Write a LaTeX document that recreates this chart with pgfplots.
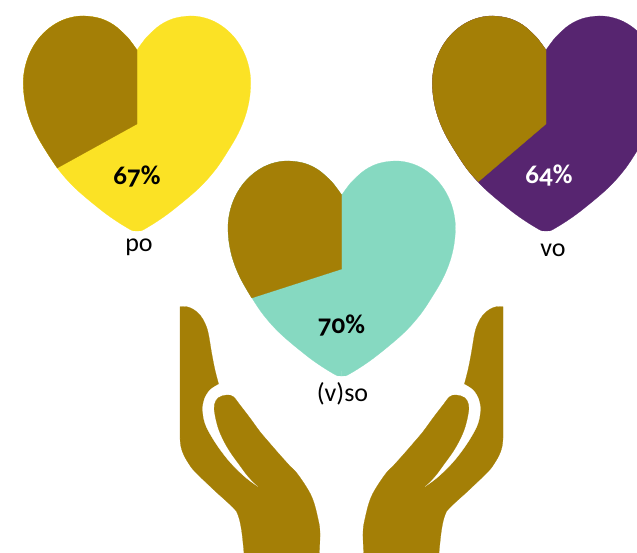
\documentclass[border=0pt]{standalone}
\usepackage{pgfplots}
\usepackage{pgfplotstable}
\usepackage{fontspec}
\setmainfont[Numbers=OldStyle]{Carlito}
\pgfplotsset{compat=1.18}
\definecolor{dk}{HTML}{A47F06}
\definecolor{yel}{HTML}{FBE225}
\definecolor{teal2}{HTML}{86D9C1}
\definecolor{pur}{HTML}{572570}
% heart half outline (offset from the centre line, y in px)
\pgfplotstableread{
dx y
0 50
5.4 42.5
11 35.8
23.1 25.1
37 18.4
53 16
65.7 17.4
77.3 21.5
87.6 28
96.5 36.4
103.7 46.4
109.1 57.75
112.5 70.1
113.7 83
112.4 99.1
108.4 115.9
101.2 133.4
90.6 151.6
78 170.3
61 189
36 210
20 221.5
6 230
3 230.8
0 231
}\halfheart
\pgfplotstableread{
dx y
0 50
5.4 42.5
11 35.8
23.1 25.1
37 18.4
53 16
65.7 17.4
77.3 21.5
87.6 28
96.5 36.4
103.7 46.4
109.1 57.75
112.5 70.1
113.7 83
112.4 99.1
108.4 115.9
101.2 133.4
90.6 151.6
79.7 168
}\arcpo
\pgfplotstableread{
dx y
0 50
5.4 42.5
11 35.8
23.1 25.1
37 18.4
53 16
65.7 17.4
77.3 21.5
87.6 28
96.5 36.4
103.7 46.4
109.1 57.75
112.5 70.1
113.7 83
112.4 99.1
108.4 115.9
101.2 133.4
90 153
}\arcso
\pgfplotstableread{
dx y
0 50
5.4 42.5
11 35.8
23.1 25.1
37 18.4
53 16
65.7 17.4
77.3 21.5
87.6 28
96.5 36.4
103.7 46.4
109.1 57.75
112.5 70.1
113.7 83
112.4 99.1
108.4 115.9
101.2 133.4
90.6 151.6
78 170.3
67.6 181.7
}\arcvo
\pgfplotstableread{
x y
180 306.7
186.7 306.7
193.3 309.3
200 315
205 323.3
208.3 333.3
211.7 353.3
215 370
218.7 384.3
}\handtop
\pgfplotstableread{
x y
180 438.3
181 447
184 455.5
189 464
195 471.7
214 490
233 507.5
238 515
241.5 530
244 553
}\handlow
\pgfplotstableread{
x y
218.7 384.3
210 390
204.3 399.3
202.7 410
205 423.3
211.7 436.7
221.7 451.7
233.3 465.7
246.7 478.3
258.3 486.7
}\handslit
\pgfplotstableread{
x y
258.3 486.7
248.3 476.7
238.3 463.3
230 451.7
223.3 440
218.3 428.3
215 415
214.3 405
218.3 397.7
226.7 395
233.3 396.7
240 405
250 418
260 431.7
270 443.5
280 455
289 465
298.3 475
311.7 496.7
318.3 520
320 533.3
319.3 553
}\handfinger
\newcommand\heart[4]{% cx, dy, colour, arc table
  \addplot[fill=#3,draw=#3,line width=.2pt,smooth,tension=0.6,forget plot] table[x expr=#1+\thisrow{dx},y expr=\thisrow{y}+#2]{\halfheart} -- cycle;
  \addplot[fill=#3,draw=#3,line width=.2pt,smooth,tension=0.6,forget plot] table[x expr=#1-\thisrow{dx},y expr=\thisrow{y}+#2]{\halfheart} -- cycle;
  \addplot[fill=#3,draw=none,forget plot] coordinates {({#1-2},{55+#2}) ({#1+2},{55+#2}) ({#1+2},{226+#2}) ({#1-2},{226+#2})} -- cycle;
  \addplot[fill=dk,draw=dk,line width=.2pt,smooth,tension=0.6,forget plot] table[x expr=#1-\thisrow{dx},y expr=\thisrow{y}+#2]{#4} -- (axis cs:#1,124+#2) -- cycle;
}
\newcommand\hand[2]{% x = #1 + #2 * X
  \addplot[fill=dk,draw=dk,line width=.2pt,smooth,tension=0.6,forget plot] table[x expr=#1+#2*\thisrow{x},y=y]{\handtop} -- (axis cs:{#1+#2*240},440) -- (axis cs:{#1+#2*240},480) -- (axis cs:{#1+#2*180},438) -- cycle;
  \addplot[fill=dk,draw=dk,line width=.2pt,smooth,tension=0.6,forget plot] table[x expr=#1+#2*\thisrow{x},y=y]{\handlow} -- (axis cs:{#1+#2*280},520) -- (axis cs:{#1+#2*240},440) -- cycle;
  \addplot[fill=white,draw=white,line width=.2pt,smooth,tension=0.6,forget plot] table[x expr=#1+#2*\thisrow{x},y=y]{\handslit} -- (axis cs:{#1+#2*240},440) -- (axis cs:{#1+#2*225},390) -- cycle;
  \addplot[fill=dk,draw=dk,line width=.2pt,smooth,tension=0.6,forget plot] table[x expr=#1+#2*\thisrow{x},y=y]{\handfinger} -- (axis cs:{#1+#2*244},553) -- cycle;
}
\begin{document}
\begin{tikzpicture}
\useasboundingbox (0,0) rectangle (637pt,553pt);
\begin{axis}[anchor=south west,at={(0,0)},scale only axis,width=637pt,height=553pt,xmin=0,xmax=637,ymin=0,ymax=553,y dir=reverse,axis lines=none,enlargelimits=false]
\heart{137}{0}{yel}{\arcpo}
\heart{546}{0}{pur}{\arcvo}
\heart{341.7}{145}{teal2}{\arcso}
\hand{0}{1}
\hand{683}{-1}
\node[font=\fontsize{27}{27}\selectfont\bfseries] at (axis cs:137,177) {67\%};
\node[font=\fontsize{27}{27}\selectfont\bfseries,text=white] at (axis cs:549,176) {64\%};
\node[font=\fontsize{27}{27}\selectfont\bfseries] at (axis cs:341.5,326) {70\%};
\node[font=\fontsize{26}{26}\selectfont] at (axis cs:139,247) {po};
\node[font=\fontsize{26}{26}\selectfont] at (axis cs:553,250) {vo};
\node[font=\fontsize{26}{26}\selectfont] at (axis cs:342.5,394) {(v)so};
\end{axis}
\end{tikzpicture}
\end{document}
